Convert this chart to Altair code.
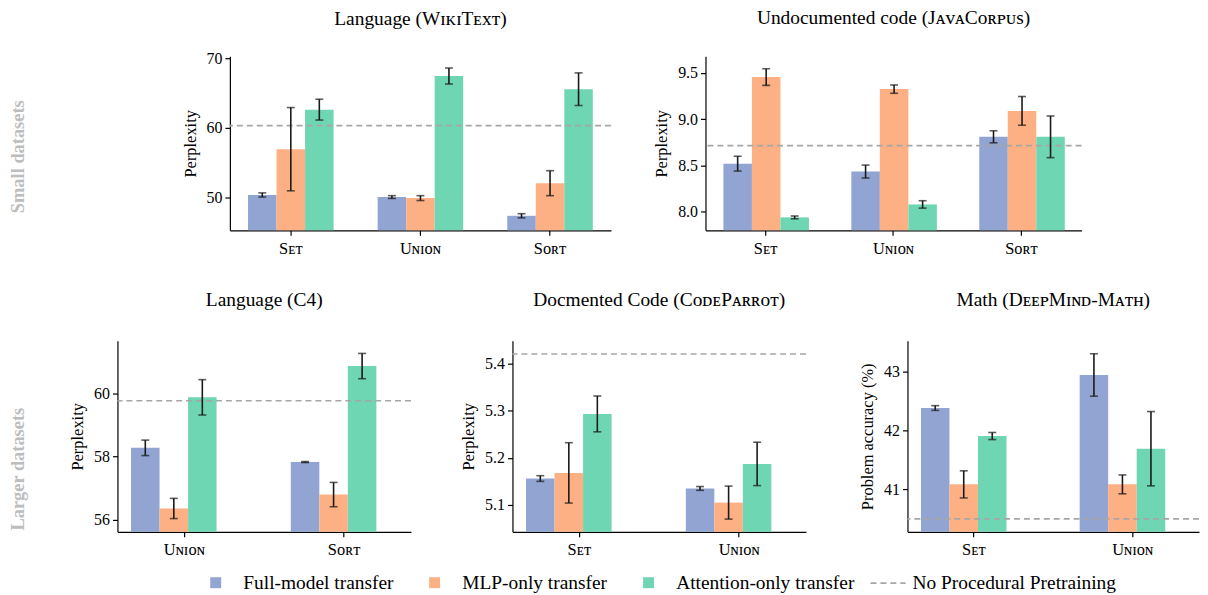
import altair as alt
import pandas as pd

# ---------------- data ----------------
series = ["Full-model transfer", "MLP-only transfer", "Attention-only transfer"]
colors = ["#91A4D2", "#FDB083", "#6FD6B4"]
baseline_label = "No Procedural Pretraining"

# Language (WikiText)
wiki_cats = ["Sᴇᴛ", "Uɴɪᴏɴ", "Sᴏʀᴛ"]
wiki_full = [50.3, 50.0, 47.3]
wiki_full_err = [0.3, 0.2, 0.3]
wiki_mlp = [56.9, 49.85, 52.0]
wiki_mlp_err = [6.0, 0.35, 1.8]
wiki_attn = [62.6, 67.45, 65.55]
wiki_attn_err = [1.5, 1.15, 2.35]
wiki_base = 60.3

# Undocumented code (JavaCorpus)
java_cats = ["Sᴇᴛ", "Uɴɪᴏɴ", "Sᴏʀᴛ"]
java_full = [8.52, 8.435, 8.81]
java_full_err = [0.08, 0.07, 0.065]
java_mlp = [9.455, 9.325, 9.09]
java_mlp_err = [0.09, 0.045, 0.155]
java_attn = [7.94, 8.08, 8.81]
java_attn_err = [0.015, 0.04, 0.225]
java_base = 8.715

# Language (C4)
c4_cats = ["Uɴɪᴏɴ", "Sᴏʀᴛ"]
c4_full = [58.28, 57.83]
c4_full_err = [0.245, 0.015]
c4_mlp = [56.36, 56.8]
c4_mlp_err = [0.32, 0.385]
c4_attn = [59.88, 60.87]
c4_attn_err = [0.56, 0.4]
c4_base = 59.77

# Documented code (CodeParrot)
cp_cats = ["Sᴇᴛ", "Uɴɪᴏɴ"]
cp_full = [5.156, 5.135]
cp_full_err = [0.006, 0.004]
cp_mlp = [5.168, 5.105]
cp_mlp_err = [0.064, 0.035]
cp_attn = [5.293, 5.187]
cp_attn_err = [0.038, 0.046]
cp_base = 5.42

# Math (DeepMind-Math)
math_cats = ["Sᴇᴛ", "Uɴɪᴏɴ"]
math_full = [42.38, 42.94]
math_full_err = [0.04, 0.36]
math_mlp = [41.085, 41.085]
math_mlp_err = [0.23, 0.16]
math_attn = [41.905, 41.69]
math_attn_err = [0.06, 0.63]
math_base = 40.5

FONT = "Liberation Serif"
LEG_Y = 519


def make_df(cats, vals, errs):
    rows = []
    for s, v, e in zip(series, vals, errs):
        for c, vv, ee in zip(cats, v, e):
            rows.append({"cat": c, "series": s, "value": vv, "lo": vv - ee, "hi": vv + ee})
    return pd.DataFrame(rows)


def panel(cats, vals, errs, base, domain, ticks, fmt, title, ytitle, width, height,
          pi, po, title_offset):
    df = make_df(cats, vals, errs)
    x = alt.X("cat:N", sort=cats,
              scale=alt.Scale(paddingInner=pi, paddingOuter=po),
              axis=alt.Axis(title=None, labelAngle=0, labelFont=FONT, labelFontSize=16.5,
                            labelColor="black", domainColor="black", tickColor="black",
                            domainWidth=1.2, tickWidth=1.2, tickSize=5, labelPadding=5))
    xo = alt.XOffset("series:N", sort=series,
                     scale=alt.Scale(paddingInner=0, paddingOuter=0))
    yscale = alt.Scale(domain=domain, nice=False, zero=False)
    yaxis = alt.Axis(values=ticks, format=fmt, title=ytitle, grid=False,
                     labelFont=FONT, labelFontSize=16, labelColor="black",
                     titleFont=FONT, titleFontSize=16.5, titleFontWeight="normal",
                     titleColor="black", domainColor="black", tickColor="black",
                     domainWidth=1.2, tickWidth=1.2, tickSize=5, labelPadding=3,
                     titlePadding=8)
    color = alt.Color("series:N", sort=series,
                      scale=alt.Scale(domain=series, range=colors),
                      legend=alt.Legend(title=None, orient="none", direction="horizontal",
                                        legendX=199, legendY=LEG_Y,
                                        symbolType="square", symbolSize=121,
                                        symbolStrokeWidth=0, labelFont=FONT,
                                        labelFontSize=19.5, labelColor="black",
                                        labelLimit=400,
                                        labelOffset=18, columnPadding=31))
    b = alt.Chart(df)
    bars = b.mark_bar().encode(
        x=x, xOffset=xo,
        y=alt.Y("value:Q", scale=yscale, axis=yaxis),
        y2=alt.datum(domain[0]),
        color=color,
    )
    rule = b.mark_rule(color="#1a1a1a", strokeWidth=1.6).encode(
        x=x, xOffset=xo, y=alt.Y("lo:Q", scale=yscale), y2="hi:Q")
    cap_lo = b.mark_tick(color="#1a1a1a", size=8, thickness=1.6).encode(
        x=x, xOffset=xo, y=alt.Y("lo:Q", scale=yscale))
    cap_hi = b.mark_tick(color="#1a1a1a", size=8, thickness=1.6).encode(
        x=x, xOffset=xo, y=alt.Y("hi:Q", scale=yscale))
    dash = alt.Chart(pd.DataFrame({"v": [base], "k": [baseline_label]})).mark_rule(
        color="#a6a6a6", strokeWidth=1.6).encode(
        y=alt.Y("v:Q", scale=yscale),
        strokeDash=alt.StrokeDash("k:N", scale=alt.Scale(domain=[baseline_label], range=[[6, 4]]),
                                  legend=alt.Legend(title=None, orient="none",
                                                    legendX=866, legendY=LEG_Y - 8,
                                                    symbolType="stroke", symbolSize=1250,
                                                    symbolStrokeColor="#a6a6a6",
                                                    symbolStrokeWidth=1.6,
                                                    symbolDash=[6, 4],
                                                    labelFont=FONT, labelFontSize=19.5,
                                                    labelColor="black", labelLimit=400,
                                                    labelOffset=6)))
    return alt.layer(bars, dash, rule, cap_lo, cap_hi).properties(
        width=width, height=height,
        title=alt.TitleParams(title, font=FONT, fontSize=19.5, fontWeight="normal",
                              color="black", anchor="middle", baseline="alphabetic",
                              offset=title_offset))


def side_label(text, w, h, ypos):
    return alt.Chart(pd.DataFrame({"t": [text]})).mark_text(
        angle=270, font=FONT, fontSize=18.5, fontWeight="bold", color="#bdbdbd",
        align="center", baseline="middle").encode(
        text="t:N", x=alt.value(10), y=alt.value(ypos)).properties(width=w, height=h)


TOP_H = 175
BOT_H = 192

p1 = panel(wiki_cats, [wiki_full, wiki_mlp, wiki_attn],
           [wiki_full_err, wiki_mlp_err, wiki_attn_err], wiki_base,
           [45.2, 70.3], [50, 60, 70], "d", "Language (WɪᴋɪTᴇxᴛ)", "Perplexity",
           383, TOP_H, 0.34, 0.14, 6)
p2 = panel(java_cats, [java_full, java_mlp, java_attn],
           [java_full_err, java_mlp_err, java_attn_err], java_base,
           [7.8, 9.68], [8.0, 8.5, 9.0, 9.5], ".1f", "Undocumented code (JᴀᴠᴀCᴏʀᴘᴜs)",
           "Perplexity", 378, TOP_H, 0.34, 0.14, 13)
p3 = panel(c4_cats, [c4_full, c4_mlp, c4_attn],
           [c4_full_err, c4_mlp_err, c4_attn_err], c4_base,
           [55.62, 61.67], [56, 58, 60], "d", "Language (C4)", "Perplexity",
           295, BOT_H, 0.333, 0.085, 15)
p4 = panel(cp_cats, [cp_full, cp_mlp, cp_attn],
           [cp_full_err, cp_mlp_err, cp_attn_err], cp_base,
           [5.043, 5.448], [5.1, 5.2, 5.3, 5.4], ".1f", "Docmented Code (CᴏᴅᴇPᴀʀʀᴏᴛ)",
           "Perplexity", 295, BOT_H, 0.333, 0.085, 15)
p5 = panel(math_cats, [math_full, math_mlp, math_attn],
           [math_full_err, math_mlp_err, math_attn_err], math_base,
           [40.28, 43.52], [41, 42, 43], "d", "Math (DᴇᴇᴘMɪɴᴅ-Mᴀᴛʜ)",
           "Problem accuracy (%)", 293, BOT_H, 0.333, 0.085, 15)

top = alt.hconcat(side_label("Small datasets", 128, TOP_H, 101), p1, p2,
                  spacing=95, bounds="flush")
bottom = alt.hconcat(side_label("Larger datasets", 8, BOT_H, 129), p3, p4, p5,
                     spacing=102, bounds="flush")

chart = alt.vconcat(top, bottom, spacing=33).properties(
    padding={"top": -2, "left": 0, "right": 0, "bottom": 0}
).configure(font=FONT).configure_view(stroke=None, strokeWidth=0)

chart.save("out.html", embed_options={"renderer": "svg", "actions": False})
